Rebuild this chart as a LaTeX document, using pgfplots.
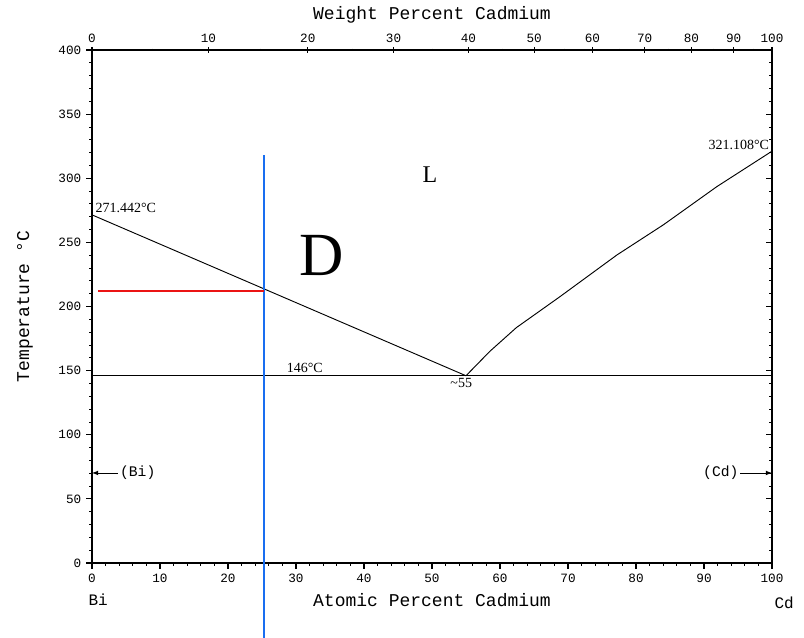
\documentclass[border=0pt]{standalone}
\usepackage{pgfplots}
\pgfplotsset{compat=1.18}
\usepackage{fontspec}
\setmainfont{Liberation Serif}
\setmonofont{Liberation Mono}

\definecolor{vblue}{RGB}{25,110,240}
\definecolor{hred}{RGB}{235,20,20}

\pgfplotsset{
  frame/.style={width=510pt, height=384.75pt, scale only axis,
    xmin=0, xmax=100, ymin=0, ymax=400, at={(0,0)}, anchor=south west,
    axis line style={line width=1.1pt}, major tick style={line width=0.8pt, black},
    minor tick style={line width=0.6pt, black},
    major tick length=4.5pt, minor tick length=2.2pt,
    ticklabel style={font=\ttfamily\fontsize{9.5}{10}\selectfont},
    /pgf/number format/assume math mode=true,
    label style={font=\ttfamily\fontsize{13.5}{14}\selectfont}},
}

\begin{document}
\begin{tikzpicture}
\useasboundingbox (-69pt,-56.25pt) rectangle (534pt,422.25pt);

% top axis: weight percent, converted to atomic positions
\begin{axis}[frame, axis x line*=top, axis y line=none, tick align=center,
  xtick={0,17.12,31.73,44.34,55.35,65.02,73.60,81.27,88.15,94.36,100},
  xticklabels={0,10,20,30,40,50,60,70,80,90,100},
  minor xtick={8.91,24.70,38.26,50.03,60.33,69.44,77.54,84.80,91.33,97.25},
  xlabel={Weight Percent Cadmium},
  xlabel style={at={(axis description cs:0.5,1.068)}, anchor=center}]
\end{axis}

% right axis ticks
\begin{axis}[frame, axis y line*=right, axis x line=none, tick align=inside,
  ytick={0,50,...,400}, yticklabels={}, minor y tick num=4]
\end{axis}

% main axis
\begin{axis}[frame, axis x line*=bottom, axis y line*=left, tick align=outside,
  xtick={0,10,...,100}, minor x tick num=4,
  ytick={0,50,...,400}, minor y tick num=4,
  xlabel={Atomic Percent Cadmium},
  xlabel style={at={(axis description cs:0.5,-0.072)}, anchor=center},
  ylabel={Temperature °C},
  ylabel style={at={(axis description cs:-0.0985,0.5)}, anchor=center, rotate=0},
  clip=false]

% liquidus
\addplot[black, line width=0.7pt] coordinates {(0,271.442) (55,146)};
\addplot[black, line width=0.7pt] coordinates {(55,146) (58.5,165) (62.4,183.5) (68.8,207.6) (77.2,240.2) (84,263.6) (91.9,293.5) (100,321.108)};
% eutectic
\addplot[black, line width=1pt] coordinates {(0,146) (100,146)};
% markers
\addplot[vblue, line width=1.6pt] coordinates {(25.3,318) (25.3,-58.5)};
\addplot[hred, line width=1.4pt] coordinates {(0.9,212.3) (25.3,212.3)};
% terminal solid solution arrows
\addplot[black, line width=0.6pt, -latex] coordinates {(3.8,70.2) (0,70.2)};
\addplot[black, line width=0.6pt, -latex] coordinates {(95.3,70.2) (100,70.2)};

\node[font=\ttfamily\fontsize{11}{12}\selectfont, anchor=west, inner sep=1pt] at (axis cs:3.9,70.2) {(Bi)};
\node[font=\ttfamily\fontsize{11}{12}\selectfont, anchor=east, inner sep=1pt] at (axis cs:95.3,70.2) {(Cd)};
\node[font=\ttfamily\fontsize{12}{13}\selectfont] at (axis cs:0.9,-29) {Bi};
\node[font=\ttfamily\fontsize{12}{13}\selectfont] at (axis cs:101.8,-31) {Cd};

\node[font=\fontsize{10.5}{11}\selectfont, anchor=south west, inner sep=1pt] at (axis cs:0.3,271.6) {271.442°C};
\node[font=\fontsize{10.5}{11}\selectfont, anchor=south east, inner sep=1pt] at (axis cs:99.8,321.3) {321.108°C};
\node[font=\fontsize{10.5}{11}\selectfont, anchor=south, inner sep=1pt] at (axis cs:31.3,147) {146°C};
\node[font=\fontsize{10.5}{11}\selectfont, anchor=north, inner sep=1pt] at (axis cs:54.3,145) {\textasciitilde55};
\node[font=\fontsize{18}{20}\selectfont] at (axis cs:49.7,302.5) {L};
\node[font=\fontsize{46}{50}\selectfont] at (axis cs:33.8,239.5) {D};
\end{axis}
\end{tikzpicture}
\end{document}
